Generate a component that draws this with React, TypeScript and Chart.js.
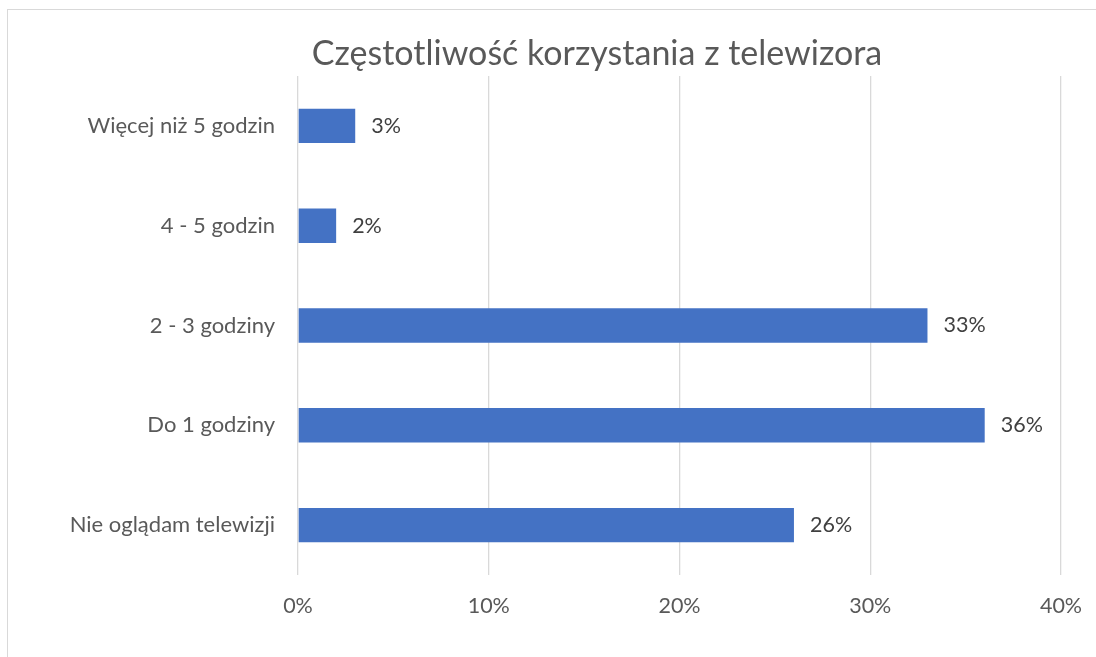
import React, { useEffect, useRef } from "react";
import { Chart, registerables } from "chart.js";

Chart.register(...registerables);

const chartTitle = "Częstotliwość korzystania z telewizora";
const categories = [
  "Więcej niż 5 godzin",
  "4 - 5 godzin",
  "2 - 3 godziny",
  "Do 1 godziny",
  "Nie oglądam telewizji",
];
const values = [3, 2, 33, 36, 26];
const xMin = 0;
const xMax = 40;
const xStep = 10;

const FONT = "Lato, 'Liberation Sans', sans-serif";

const titlePlugin = {
  id: "customTitle",
  afterDraw(chart: any) {
    const ctx = chart.ctx;
    ctx.save();
    ctx.font = `34px ${FONT}`;
    ctx.fillStyle = "#595959";
    ctx.textAlign = "center";
    ctx.textBaseline = "middle";
    ctx.fillText(chartTitle, 597, 54);
    ctx.restore();
  },
};

const dataLabelPlugin = {
  id: "dataLabels",
  afterDatasetsDraw(chart: any) {
    const ctx = chart.ctx;
    const meta = chart.getDatasetMeta(0);
    ctx.save();
    ctx.font = `21.5px ${FONT}`;
    ctx.fillStyle = "#404040";
    ctx.textAlign = "left";
    ctx.textBaseline = "middle";
    meta.data.forEach((el: any, i: number) => {
      ctx.fillText(`${values[i]}%`, el.x + 16, el.y);
    });
    ctx.restore();
  },
};

export default function App() {
  const ref = useRef<HTMLCanvasElement>(null);

  useEffect(() => {
    if (!ref.current) return;
    const chart = new Chart(ref.current, {
      type: "bar",
      data: {
        labels: categories,
        datasets: [
          {
            data: values,
            backgroundColor: "#4472C4",
            borderWidth: 0,
            barPercentage: 0.345,
            categoryPercentage: 1,
          },
        ],
      },
      options: {
        indexAxis: "y",
        animation: false,
        responsive: false,
        devicePixelRatio: 1,
        layout: { padding: { top: 76, right: 35, bottom: 0, left: 0 } },
        plugins: {
          legend: { display: false },
          title: { display: false },
          tooltip: { enabled: false },
        },
        scales: {
          x: {
            type: "linear",
            min: xMin,
            max: xMax,
            ticks: {
              stepSize: xStep,
              padding: 18,
              color: "#595959",
              font: { family: FONT, size: 21.5 },
              callback: (v: any) => `${v}%`,
            },
            grid: { color: "#d9d9d9", lineWidth: 1.3, drawTicks: false },
            border: { display: false },
            afterFit: (scale: any) => {
              scale.height = 82;
              scale.paddingLeft = 0;
              scale.paddingRight = 0;
            },
          },
          y: {
            type: "category",
            ticks: {
              padding: 23,
              color: "#595959",
              font: { family: FONT, size: 22 },
            },
            grid: { display: false, drawTicks: false },
            border: { display: false },
            afterFit: (scale: any) => {
              scale.width = 298;
              scale.paddingTop = 0;
              scale.paddingBottom = 0;
            },
          },
        },
      },
      plugins: [titlePlugin, dataLabelPlugin],
    });
    return () => chart.destroy();
  }, []);

  return (
    <div
      style={{
        position: "fixed",
        left: 0,
        top: 0,
        width: 1096,
        height: 657,
        overflow: "hidden",
        background: "#ffffff",
      }}
    >
      <div
        style={{
          position: "absolute",
          left: 7,
          top: 9,
          width: 1200,
          height: 800,
          border: "1px solid #d9d9d9",
          boxSizing: "border-box",
        }}
      />
      <canvas
        ref={ref}
        width={1096}
        height={657}
        style={{ position: "absolute", left: 0, top: 0, width: 1096, height: 657 }}
      />
    </div>
  );
}
